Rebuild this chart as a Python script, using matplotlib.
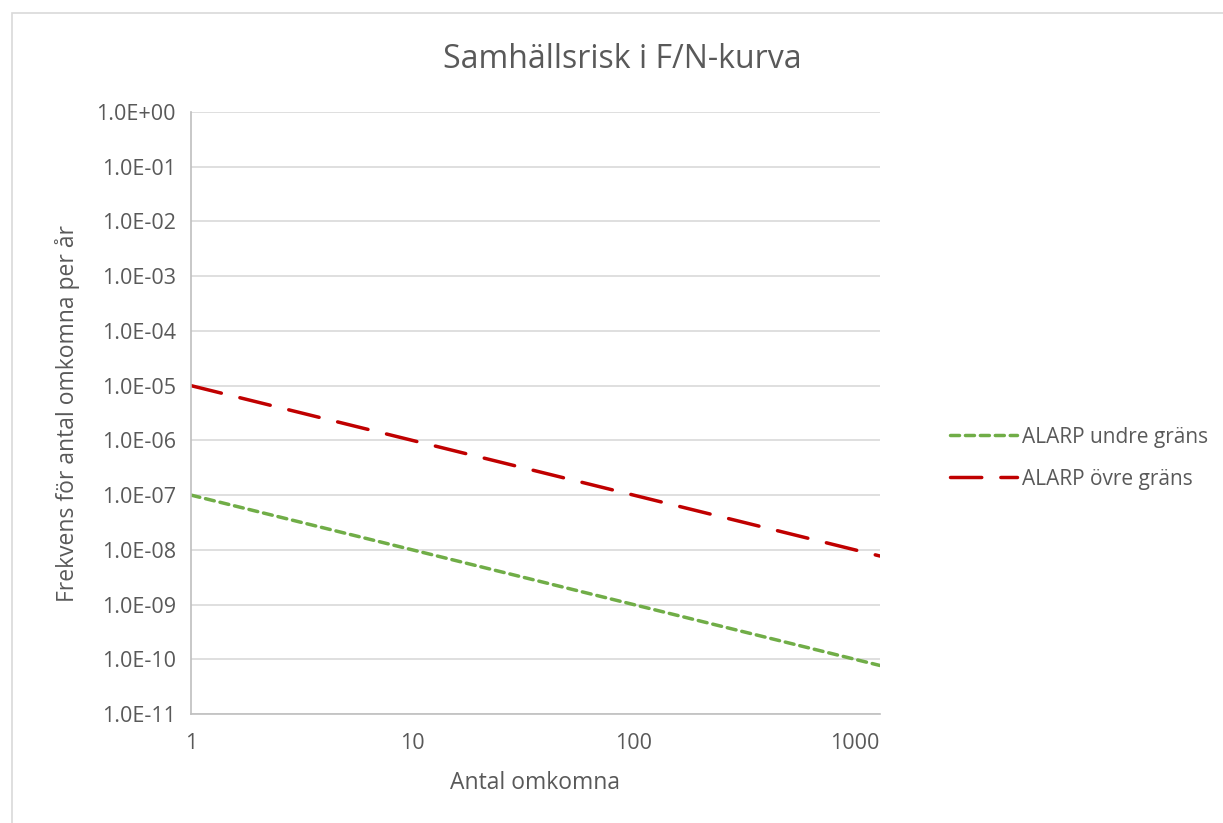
import matplotlib.pyplot as plt
from matplotlib.patches import Rectangle
from matplotlib.ticker import FixedLocator, NullLocator

# data
antal = [1, 10, 100, 1000, 1300]
alarp_undre = [1e-7, 1e-8, 1e-9, 1e-10, 7.7e-11]
alarp_ovre = [1e-5, 1e-6, 1e-7, 1e-8, 7.7e-9]

x_ticks = [1, 10, 100, 1000]
x_ticklabels = ["1", "10", "100", "1000"]
y_ticks = [10.0 ** e for e in range(-11, 1)]
y_ticklabels = ["1.0E%+03d" % e if e >= 0 else "1.0E-%02d" % -e for e in range(-11, 1)]

plt.rcParams['font.family'] = ['Open Sans', 'DejaVu Sans']
text_col = "#595959"
grid_col = "#d9d9d9"

fig = plt.figure(figsize=(12.23, 8.23), dpi=100)
fig.patches.append(Rectangle((12 / 1223, -0.01), 1.0, 1 - 13 / 823 + 0.01,
                             transform=fig.transFigure, fill=False,
                             edgecolor="#d9d9d9", linewidth=1.2))

ax = fig.add_axes([191 / 1223, 1 - 714 / 823, 689 / 1223, 602 / 823])
ax.set_xscale("log")
ax.set_yscale("log")
ax.set_xlim(1, 1300)
ax.set_ylim(1e-11, 1)

ax.plot(antal, alarp_undre, color="#70ad47", lw=2.5, dashes=(2.6, 1.7),
        dash_capstyle="round", label="ALARP undre gräns")
ax.plot(antal, alarp_ovre, color="#c00000", lw=2.5, dashes=(9, 5.5),
        dash_capstyle="round", label="ALARP övre gräns")

ax.yaxis.set_major_locator(FixedLocator(y_ticks))
ax.yaxis.set_minor_locator(NullLocator())
ax.set_yticklabels(y_ticklabels)
ax.xaxis.set_major_locator(FixedLocator(x_ticks))
ax.xaxis.set_minor_locator(NullLocator())
ax.set_xticklabels(x_ticklabels)

ax.grid(axis="y", color=grid_col, lw=1.2)
ax.set_axisbelow(True)
for s in ["top", "right"]:
    ax.spines[s].set_visible(False)
ax.spines["left"].set_color("#bfbfbf")
ax.spines["bottom"].set_color("#bfbfbf")
ax.spines["left"].set_linewidth(1.2)
ax.spines["bottom"].set_linewidth(1.2)
ax.tick_params(length=0, labelsize=15.5, colors=text_col)
ax.tick_params(axis="y", pad=11)
ax.tick_params(axis="x", pad=14)

ax.set_xlabel("Antal omkomna", fontsize=16.5, color=text_col, labelpad=12)
ax.set_ylabel("Frekvens för antal omkomna per år", fontsize=16.5, color=text_col, labelpad=12)
fig.text(622 / 1223, 1 - 60 / 823, "Samhällsrisk i F/N-kurva", fontsize=23,
         color=text_col, ha="center", va="center")

leg = ax.legend(loc="center left", bbox_to_anchor=(1.075, 0.425), frameon=False,
                fontsize=15, labelcolor=text_col, handlelength=3.2,
                handletextpad=0.25, labelspacing=1.0)

fig.savefig("out.png", dpi=100)
